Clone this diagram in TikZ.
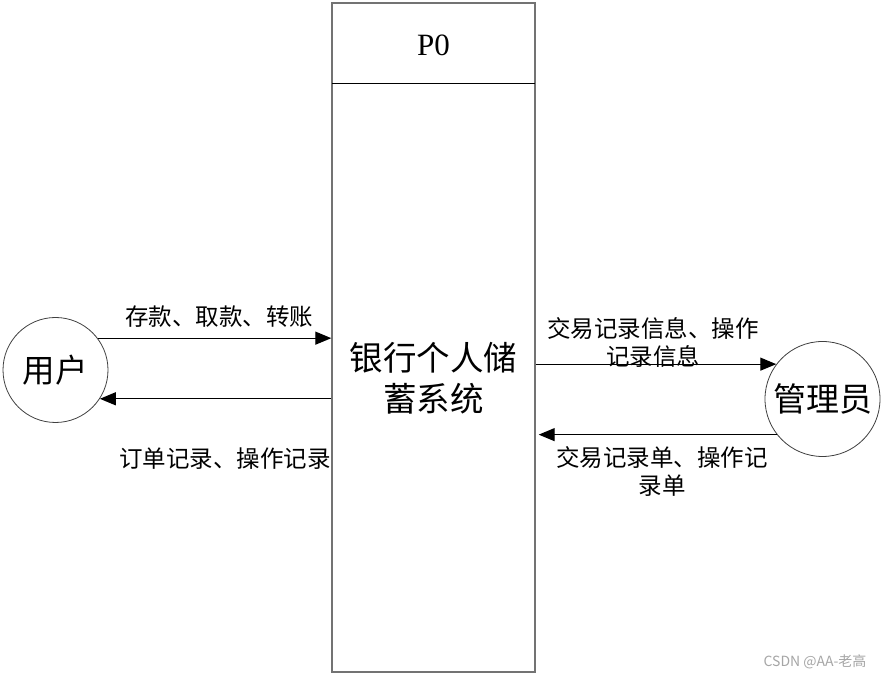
\documentclass[tikz,border=0pt]{standalone}
\usepackage{fontspec}
\setmainfont{Noto Sans CJK SC}
\newfontfamily\serifp{Liberation Serif}
\usetikzlibrary{arrows.meta}
\begin{document}
\begin{tikzpicture}[x=1pt,y=1pt,
  lbl/.style={font=\fontsize{23.5}{28}\selectfont, align=center, inner sep=0pt},
  ent/.style={circle, draw=black!75, line width=0.8pt, inner sep=0pt},
  flow/.style={line width=1.3pt, -{Triangle[length=16pt,width=13pt]}}]
\useasboundingbox (0,0) rectangle (886,677);
\fill[white] (0,0) rectangle (886,677);
% main process box
\node[draw=black!55, line width=1.4pt, minimum width=203pt, minimum height=669pt, inner sep=0pt] (box) at (433.5,339.5) {};
\coordinate (divl) at (332,593);
\coordinate (divr) at (535,593);
\draw[line width=1pt] (divl) -- (divr);
\node[font=\serifp\fontsize{31}{34}\selectfont, inner sep=0pt] (p0) at (433.5,632) {P0};
\node[font=\fontsize{33.5}{41}\selectfont, align=center, inner sep=0pt] (sys) at (433.5,299) {银行个人储\\蓄系统};
% entities
\node[ent, minimum size=105pt, font=\fontsize{32.5}{34}\selectfont] (user) at (55.5,307) {用户};
\node[ent, minimum size=115pt, font=\fontsize{33}{34}\selectfont] (admin) at (822.5,278) {管理员};
% flows
\draw[flow] (user.37.6) -- (user.37.6 -| box.west);
\draw[flow] (box.west |- user.-33.5) -- (user.-33.5);
\draw[flow] (box.east |- admin.143.8) -- (admin.143.8);
\draw[flow] (admin.218.8) -- ([xshift=3pt]box.east |- admin.218.8);
% labels
\node[lbl] (l1) at (219,360) {存款、取款、转账};
\node[lbl] (l2) at (225,218) {订单记录、操作记录};
\node[lbl] (l3) at (653,335) {交易记录信息、操作\\记录信息};
\node[lbl] (l4) at (662,206) {交易记录单、操作记\\录单};
% watermark
\node[font=\fontsize{14}{16}\selectfont, text=black!35, inner sep=0pt] (wm) at (815,15) {CSDN @AA-老高};
\end{tikzpicture}
\end{document}
